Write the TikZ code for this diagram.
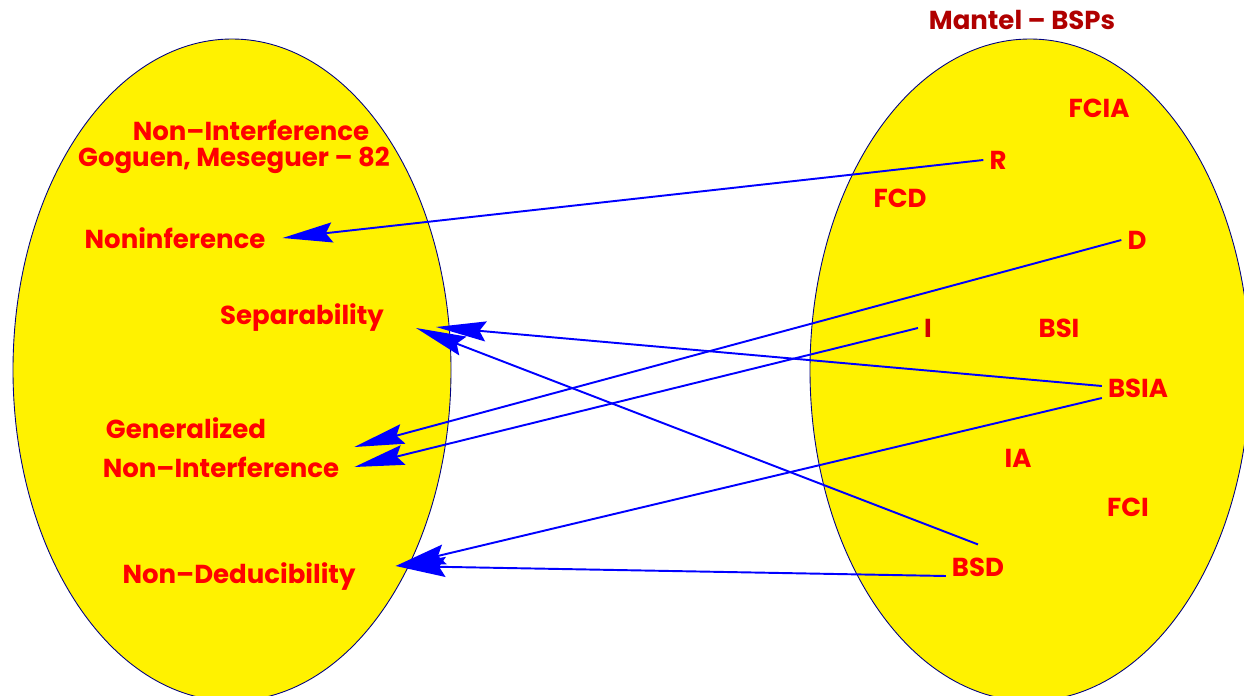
\documentclass[tikz,border=0pt]{standalone}
\usepackage{fontspec}
\setmainfont{Poppins}
\usetikzlibrary{arrows.meta}

\definecolor{darkred}{RGB}{176,0,0}
\definecolor{midred}{RGB}{208,0,0}
\definecolor{rim}{RGB}{0,0,128}

\tikzset{
  lbl/.style={text=red, font=\bfseries\fontsize{14.8}{17}\selectfont},
  conn/.style={draw=blue, line width=1.1pt, -{Stealth[length=1cm, width=0.4cm, inset=0.13cm]}},
  blob/.style={fill=yellow, draw=rim, line width=0.5pt}
}

\begin{document}
\begin{tikzpicture}[x=0.02cm,y=-0.02cm]
\useasboundingbox (0,0) rectangle (1244,696);
\clip (0,0) rectangle (1244,696);

% the two sets
\filldraw[blob] (232,370) ellipse (219 and 331);
\filldraw[blob] (1030,370) ellipse (220 and 331);

% left set
\node[lbl] (nonint) at (251,130) {Non--Interference};
\node[lbl] (goguen) at (234,160) {Goguen, Meseguer -- 82};
\node[lbl] (noninf) at (175,238) {Noninference};
\node[lbl] (sep) at (302,318) {Separability};
\node[lbl] (gen) at (186,428) {Generalized};
\node[lbl] (gni) at (221,467) {Non--Interference};
\node[lbl] (nonded) at (239,577) {Non--Deducibility};

% right set
\node[lbl, text=darkred] (mantel) at (1022,20) {Mantel -- BSPs};
\node[lbl] (fcia) at (1099,108) {FCIA};
\node[lbl] (r) at (998,160) {R};
\node[lbl] (fcd) at (900,198) {FCD};
\node[lbl] (d) at (1137,240) {D};
\node[lbl, text=midred] (i) at (928,328) {I};
\node[lbl] (bsi) at (1059,328) {BSI};
\node[lbl] (bsia) at (1138,388) {BSIA};
\node[lbl] (ia) at (1018,458) {IA};
\node[lbl] (fci) at (1128,507) {FCI};
\node[lbl] (bsd) at (978,567) {BSD};

% arrows
\draw[conn] (r.west) -- ([xshift=0.22cm]noninf.east);
\draw[conn] (d.west) -- ([xshift=0.18cm,yshift=0.4cm]gni.east);
\draw[conn] (i.west) -- ([xshift=0.18cm]gni.east);
\draw[conn] ([yshift=0.04cm]bsia.west) -- ([xshift=0.92cm,yshift=-0.18cm]sep.east);
\draw[conn] ([yshift=-0.2cm]bsia.west) -- ([xshift=0.68cm,yshift=0.22cm]nonded.east);
\draw[conn] ([yshift=0.14cm]bsd.north) -- ([xshift=0.52cm,yshift=-0.2cm]sep.east);
\draw[conn] ([yshift=-0.18cm]bsd.west) -- ([xshift=0.68cm,yshift=0.22cm]nonded.east);
\end{tikzpicture}
\end{document}
